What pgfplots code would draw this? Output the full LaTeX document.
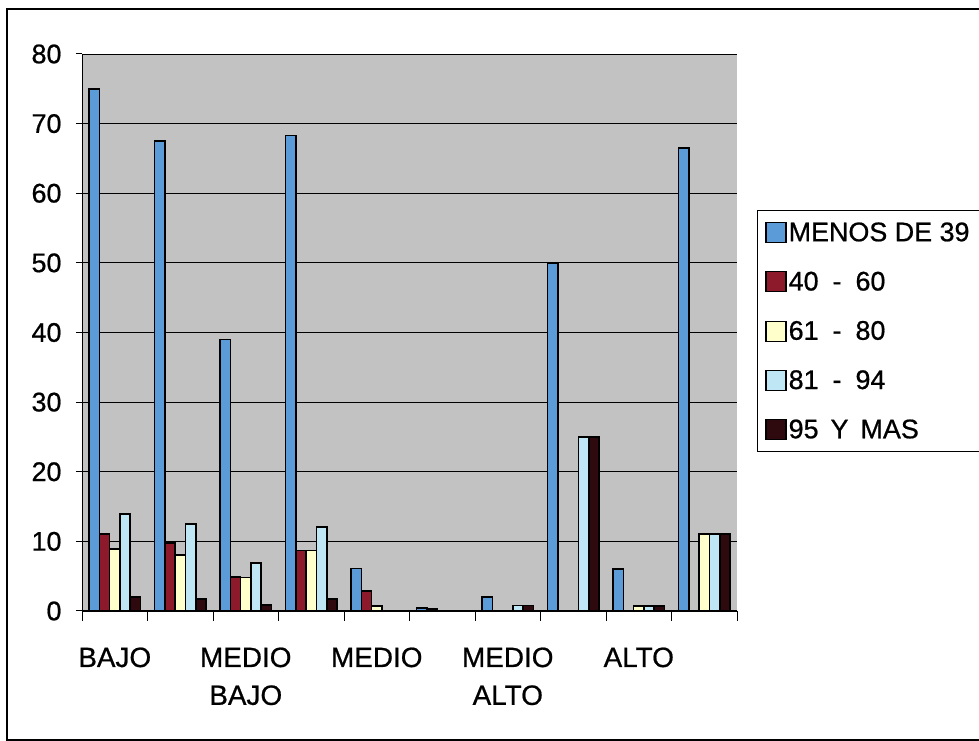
\documentclass[border=0pt]{standalone}
\usepackage{pgfplots}
\pgfplotsset{compat=1.18}
\usepackage{fontspec}
\setmainfont{Liberation Sans}[FakeBold=0.7]
\definecolor{sA}{HTML}{5A9BD8}
\definecolor{sB}{HTML}{8C1A2A}
\definecolor{sC}{HTML}{FFFFCC}
\definecolor{sD}{HTML}{BEE6F5}
\definecolor{sE}{HTML}{2E0A0E}
\definecolor{bgc}{HTML}{C2C2C2}
\pgfplotsset{sqleg/.style={legend image code/.code={\draw[##1,draw=black,line width=1.2bp] (0bp,-10bp) rectangle (20bp,10bp);}}}
\begin{document}
\begin{tikzpicture}
\useasboundingbox (0,0) rectangle (979bp,741bp);
\draw[line width=1.5bp] (7bp,1bp) rectangle (990bp,732bp);
\begin{axis}[
  at={(82bp,130bp)}, anchor=south west,
  width=655bp, height=557bp, scale only axis,
  xmin=0, xmax=10, ymin=0, ymax=80,
  axis x line*=bottom, axis y line*=left,
  axis line style={black, line width=1bp},
  axis background/.style={fill=bgc},
  ybar=0pt, bar width=10.3bp,
  ytick={0,10,...,80},
  ymajorgrids, major grid style={black, line width=0.8bp},
  xtick={0.5,2.5,4.5,6.5,8.5},
  xticklabels={BAJO, MEDIO\\BAJO, MEDIO, MEDIO\\ALTO, ALTO},
  minor xtick={0,1,...,10},
  tick align=outside,
  x tick style={draw=none},
  minor x tick style={draw=black, line width=1bp},
  minor tick length=10bp,
  major tick length=6bp,
  y tick style={black, line width=1bp},
  /pgf/number format/assume math mode=true,
  x tick label style={font=\fontsize{28}{38}\selectfont, align=center, yshift=-27bp},
  y tick label style={font=\fontsize{27}{32}\selectfont, xshift=-11bp},
  legend style={at={(1.0305,0.72)}, anchor=north west, draw=black, line width=1bp, fill=white,
    font=\fontsize{27}{32}\selectfont, row sep=25bp, inner xsep=8bp, inner ysep=10bp},
  legend cell align=left,
]
\addplot[fill=sA, draw=black, line width=1.6bp, sqleg] coordinates {(0.5,75) (1.5,67.5) (2.5,39) (3.5,68.3) (4.5,6.1) (5.5,0.4) (6.5,2) (7.5,50) (8.5,6) (9.5,66.5)};
\addplot[fill=sB, draw=black, line width=1.6bp, sqleg] coordinates {(0.5,11.1) (1.5,9.8) (2.5,4.9) (3.5,8.7) (4.5,2.9) (5.5,0.3)};
\addplot[fill=sC, draw=black, line width=1.6bp, sqleg] coordinates {(0.5,8.9) (1.5,8.0) (2.5,4.8) (3.5,8.7) (4.5,0.7) (8.5,0.7) (9.5,11.1)};
\addplot[fill=sD, draw=black, line width=1.6bp, sqleg] coordinates {(0.5,13.9) (1.5,12.5) (2.5,6.9) (3.5,12.1) (6.5,0.8) (7.5,25) (8.5,0.7) (9.5,11.1)};
\addplot[fill=sE, draw=black, line width=1.6bp, sqleg] coordinates {(0.5,2.0) (1.5,1.7) (2.5,0.9) (3.5,1.7) (6.5,0.8) (7.5,25) (8.5,0.7) (9.5,11.1)};
\legend{MENOS DE 39, 40\hspace{14bp}-\hspace{14bp}60, 61\hspace{14bp}-\hspace{14bp}80, 81\hspace{14bp}-\hspace{14bp}94, 95\hspace{12bp}Y\hspace{12bp}MAS}
\end{axis}
\end{tikzpicture}
\end{document}
